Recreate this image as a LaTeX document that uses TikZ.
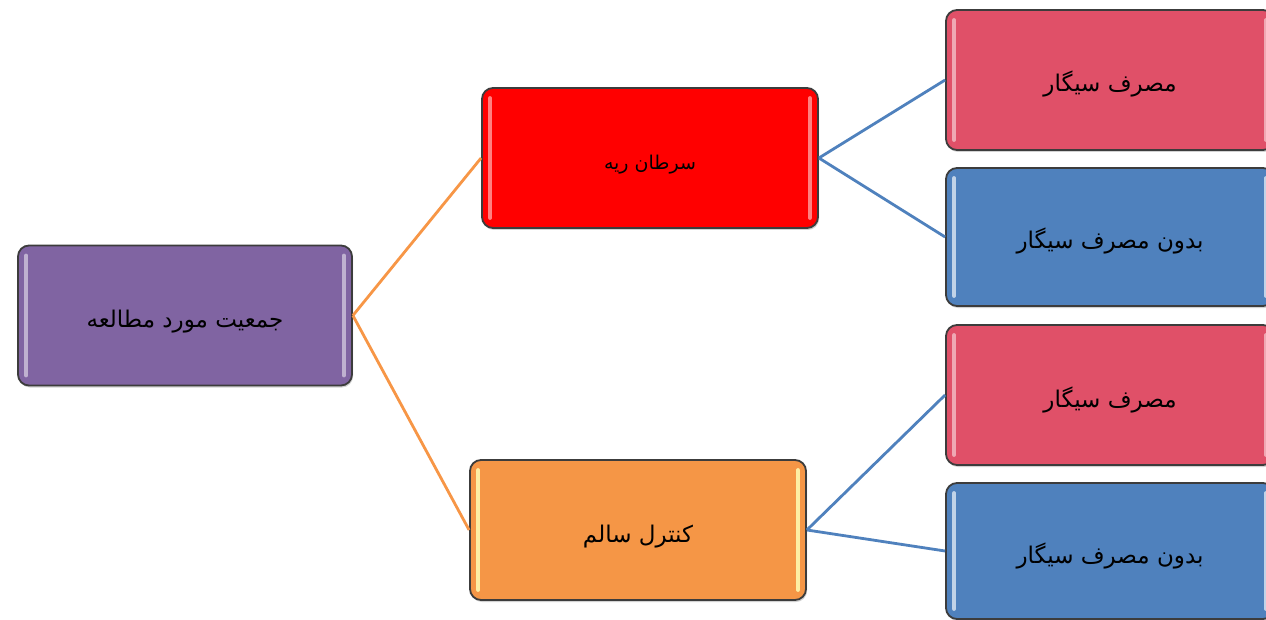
\documentclass[tikz,border=0pt]{standalone}
\usepackage{fontspec}
\usetikzlibrary{shadows}
\TeXXeTstate=1
\newfontfamily\arabicfont[Script=Arabic]{DejaVu Sans}

\definecolor{purplefill}{RGB}{128,100,162}
\definecolor{redfill}{RGB}{255,0,0}
\definecolor{orangefill}{RGB}{245,150,70}
\definecolor{pinkfill}{RGB}{224,80,104}
\definecolor{bluefill}{RGB}{79,129,189}
\definecolor{boxborder}{RGB}{60,60,60}
\definecolor{orangeline}{RGB}{247,150,70}
\definecolor{blueline}{RGB}{79,129,189}

\tikzset{
  gbox/.style={draw=boxborder, line width=1.8pt, rounded corners=11pt,
    minimum width=334pt, minimum height=140pt, inner sep=0pt,
    font=\arabicfont\fontsize{23}{26}\selectfont, text=black,
    drop shadow={opacity=0.35, shadow xshift=1pt, shadow yshift=-2pt}},
  strip/.style={line width=4pt, line cap=round},
  orangelink/.style={draw=orangeline, line width=2.8pt},
  bluelink/.style={draw=blueline, line width=2.8pt},
}

% a box with light vertical strips near its left and right sides
\newcommand{\stripbox}[2]{%
  \draw[strip, #2] ([xshift=9pt,yshift=-11pt]#1.north west) -- ([xshift=9pt,yshift=11pt]#1.south west);
  \draw[strip, #2] ([xshift=-9pt,yshift=-11pt]#1.north east) -- ([xshift=-9pt,yshift=11pt]#1.south east);
}
% right-to-left label set a little below the box centre
\newcommand{\fa}[1]{\raisebox{-12pt}[0pt][0pt]{\beginR #1\endR}}

\begin{document}
\begin{tikzpicture}[x=1pt, y=-1pt]
\useasboundingbox (0,0) rectangle (1266,620);
\clip (0,0) rectangle (1266,620);
\fill[white] (0,0) rectangle (1266,620);

% boxes
\node[gbox, fill=purplefill] (pop) at (185,315.5) {\fa{جمعیت مورد مطالعه}};
\node[gbox, fill=redfill, minimum width=336pt, font=\arabicfont\fontsize{19}{22}\selectfont] (cancer) at (650,158) {\fa{سرطان ریه}};
\node[gbox, fill=orangefill, minimum width=336pt] (control) at (638,530) {\fa{کنترل سالم}};
\node[gbox, fill=pinkfill, minimum width=328pt] (s1) at (1110,80) {\fa{مصرف سیگار}};
\node[gbox, fill=bluefill, minimum width=328pt, minimum height=138pt] (n1) at (1110,237) {\fa{بدون مصرف سیگار}};
\node[gbox, fill=pinkfill, minimum width=328pt] (s2) at (1110,395) {\fa{مصرف سیگار}};
\node[gbox, fill=bluefill, minimum width=328pt, minimum height=136pt] (n2) at (1110,551) {\fa{بدون مصرف سیگار}};

\stripbox{pop}{draw=purplefill!50!white}
\stripbox{cancer}{draw=redfill!50!white}
\stripbox{control}{draw=orangefill!40!yellow!40!white}
\stripbox{s1}{draw=pinkfill!50!white}
\stripbox{n1}{draw=bluefill!35!white}
\stripbox{s2}{draw=pinkfill!50!white}
\stripbox{n2}{draw=bluefill!35!white}

% links
\draw[orangelink] (pop.east) -- (cancer.west);
\draw[orangelink] (pop.east) -- (control.west);
\draw[bluelink] (cancer.east) -- (s1.west);
\draw[bluelink] (cancer.east) -- (n1.west);
\draw[bluelink] (control.east) -- (s2.west);
\draw[bluelink] (control.east) -- (n2.west);
\end{tikzpicture}
\end{document}
